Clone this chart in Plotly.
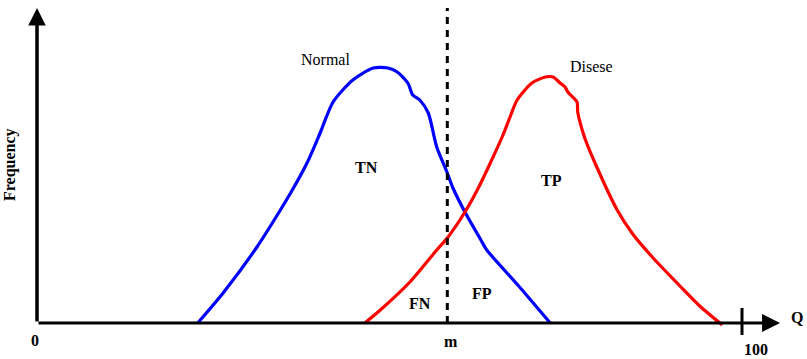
import plotly.graph_objects as go

# Normal (blue) distribution curve: Q value vs frequency
normal_q = [22.8, 26.4, 31.2, 34.0, 36.3, 38.3, 40.1, 42.0, 44.8, 47.7, 49.8, 51.1, 52.6, 53.3,
            54.3, 55.5, 56.7, 58.2, 59.0, 60.7, 62.8, 63.8, 68.2, 72.8]
normal_f = [0, 12, 30.4, 42.8, 53.6, 64, 75.6, 88.4, 97.2, 102, 102, 100.4, 96, 91.2,
            89.2, 84, 70.4, 60, 54, 44.4, 34, 29.2, 15.2, 0]

# Disease (red) distribution curve
disease_q = [46.5, 48.7, 52.9, 56.7, 58.2, 60.7, 62.6, 64.3, 66.1, 67.1, 68.1, 70.2, 72.1, 73.2,
             74.2, 74.9, 75.3, 76.6, 76.7, 77.7, 79.4, 82.3, 84.5, 87.4, 91.2, 94.0, 97.2]
disease_f = [0, 5.2, 16.4, 29.2, 34, 44.4, 54, 64, 75.2, 82.4, 89.2, 96, 98.4, 98.4,
             96, 94.4, 92.4, 88.4, 84.4, 74, 62.4, 45.2, 35.6, 26, 14.8, 6.8, -0.8]

threshold_m = 58.2
q_max = 100
axis_top = 126
axis_right = 105.4

tick_labels = ["0", "m", "100"]
tick_positions = [0, threshold_m, q_max]

region_labels = ["TN", "TP", "FN", "FP"]
region_q = [46.8, 73.0, 54.3, 63.1]
region_f = [62.4, 57.2, 8, 12]

serif = "Liberation Serif, Times New Roman, serif"

fig = go.Figure()
fig.add_trace(go.Scatter(x=normal_q, y=normal_f, mode="lines",
                         line=dict(color="#0000FF", width=3.2, shape="spline", smoothing=0.7),
                         hoverinfo="skip"))
fig.add_trace(go.Scatter(x=disease_q, y=disease_f, mode="lines",
                         line=dict(color="#FF0000", width=3.2, shape="spline", smoothing=0.7),
                         hoverinfo="skip"))

# threshold dashed line
fig.add_shape(type="line", x0=threshold_m, x1=threshold_m, y0=0, y1=axis_top,
              line=dict(color="black", width=3, dash="7px,6px"))
# tick at 100
fig.add_shape(type="line", x0=q_max, x1=q_max, y0=-4.8, y1=6,
              line=dict(color="black", width=3))

# axes with arrows
fig.add_annotation(x=axis_right, y=0, ax=0, ay=0, axref="x", ayref="y", xref="x", yref="y",
                   text="", showarrow=True, arrowhead=2, arrowsize=1.2, arrowwidth=3, arrowcolor="black")
fig.add_annotation(x=0, y=axis_top, ax=0, ay=0, axref="x", ayref="y", xref="x", yref="y",
                   text="", showarrow=True, arrowhead=2, arrowsize=1.0, arrowwidth=3.5, arrowcolor="black")

# tick labels
tick_offsets = [-6.8, -7.2, -10.6]
tick_shift = [-0.3, 0.5, 2.0]
for lab, pos, off, sh in zip(tick_labels, tick_positions, tick_offsets, tick_shift):
    fig.add_annotation(x=pos + sh, y=off, text=f"<b>{lab}</b>", showarrow=False,
                       font=dict(family=serif, size=16, color="black"))

fig.add_annotation(x=107.8, y=2.4, text="<b>Q</b>", showarrow=False,
                   font=dict(family=serif, size=16, color="black"))
fig.add_annotation(x=-3.83, y=63.2, text="<b>Frequency</b>", showarrow=False, textangle=-90,
                   font=dict(family=serif, size=16, color="black"))
fig.add_annotation(x=40.9, y=105.6, text="Normal", showarrow=False,
                   font=dict(family=serif, size=16, color="black"))
fig.add_annotation(x=78.7, y=102.8, text="Disese", showarrow=False,
                   font=dict(family=serif, size=16, color="black"))

for lab, q, f in zip(region_labels, region_q, region_f):
    fig.add_annotation(x=q, y=f, text=f"<b>{lab}</b>", showarrow=False,
                       font=dict(family=serif, size=16, color="black"))

fig.update_layout(
    width=807, height=359,
    margin=dict(l=0, r=0, t=0, b=0),
    paper_bgcolor="white", plot_bgcolor="white",
    showlegend=False,
    xaxis=dict(range=[-5.248, 109.22], visible=False, fixedrange=True),
    yaxis=dict(range=[-14.4, 129.2], visible=False, fixedrange=True),
)

fig.write_html("out.html", config={"displayModeBar": False},
               post_script="document.body.style.margin='0';document.body.style.overflow='hidden';")
